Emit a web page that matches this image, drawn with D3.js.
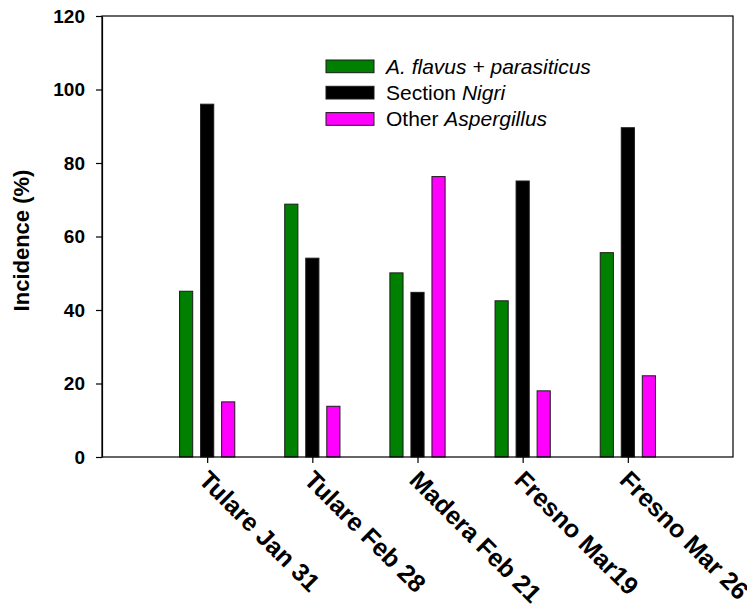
<!DOCTYPE html>
<html lang="en">
<head>
    <meta charset="UTF-8">
    <title>Aspergillus incidence by site</title>
    <script src="https://d3js.org/d3.v7.min.js"></script>
    <style>
        body { margin: 0; background: #fff; }
        svg text { font-family: Arial, "Liberation Sans", sans-serif; fill: #000; }
        .axis path, .axis line { stroke: #000; stroke-width: 1.2px; }
        .y-axis text { font-size: 19px; font-weight: bold; }
        .x-label { font-size: 25px; font-weight: bold; }
        .legend text { font-size: 21px; }
    </style>
</head>
<body>
    <div id="chart"></div>

    <script>
        // data
        const sites = ["Tulare Jan 31", "Tulare Feb 28", "Madera Feb 21", "Fresno Mar19", "Fresno Mar 26"];
        const flavus = [45.1, 68.8, 50.1, 42.5, 55.6];
        const nigri = [96.0, 54.1, 44.8, 75.1, 89.6];
        const otherAsp = [15.0, 13.8, 76.3, 18.0, 22.1];
        const yTicks = [0, 20, 40, 60, 80, 100, 120];

        const series = [
            { values: flavus, color: "#008000", offset: -0.2, label: [["A. flavus + parasiticus", true]] },
            { values: nigri, color: "#000000", offset: 0, label: [["Section ", false], ["Nigri", true]] },
            { values: otherAsp, color: "#ff00ff", offset: 0.2, label: [["Other ", false], ["Aspergillus", true]] }
        ];

        const W = 747, H = 604;
        const plot = { left: 102, right: 733, top: 16, bottom: 457 };
        const barW = 0.125;

        const svg = d3.select("#chart").append("svg")
            .attr("width", W)
            .attr("height", H);

        // categories sit at 0..4, axis runs one step beyond each end
        const x = d3.scaleLinear()
            .domain([-1, sites.length])
            .range([plot.left, plot.right]);

        const y = d3.scaleLinear()
            .domain([0, 120])
            .range([plot.bottom, plot.top]);

        // bars
        series.forEach(s => {
            svg.append("g").selectAll("rect")
                .data(s.values)
                .enter()
                .append("rect")
                .attr("x", (d, i) => x(i + s.offset - barW / 2))
                .attr("y", d => y(d))
                .attr("width", x(barW) - x(0))
                .attr("height", d => y(0) - y(d))
                .attr("fill", s.color)
                .attr("stroke", "#1a1a1a")
                .attr("stroke-width", 1);
        });

        // frame
        svg.append("rect")
            .attr("x", plot.left)
            .attr("y", plot.top)
            .attr("width", plot.right - plot.left)
            .attr("height", plot.bottom - plot.top)
            .attr("fill", "none")
            .attr("stroke", "#000")
            .attr("stroke-width", 1.2);

        // y axis
        svg.append("g")
            .attr("class", "axis y-axis")
            .attr("transform", `translate(${plot.left},0)`)
            .call(d3.axisLeft(y).tickValues(yTicks).tickSize(6).tickSizeOuter(0).tickPadding(11));

        // x axis, labels drawn separately at 45 degrees
        const xAxis = svg.append("g")
            .attr("class", "axis x-axis")
            .attr("transform", `translate(0,${plot.bottom})`)
            .call(d3.axisBottom(x).tickValues(d3.range(sites.length)).tickSize(6).tickSizeOuter(0).tickFormat(""));
        xAxis.select(".domain").remove();

        svg.append("g").selectAll("text")
            .data(sites)
            .enter()
            .append("text")
            .attr("class", "x-label")
            .attr("transform", (d, i) => `translate(${x(i) + 3},${plot.bottom + 12}) rotate(45)`)
            .attr("dy", "0.71em")
            .text(d => d);

        // y title
        svg.append("text")
            .attr("transform", `translate(29,${(plot.top + plot.bottom) / 2 + 4}) rotate(-90)`)
            .attr("text-anchor", "middle")
            .style("font-size", "22px")
            .style("font-weight", "bold")
            .text("Incidence (%)");

        // legend
        const legend = svg.append("g").attr("class", "legend")
            .attr("transform", "translate(326,60)");
        series.forEach((s, k) => {
            const row = legend.append("g").attr("transform", `translate(0,${k * 26.3})`);
            row.append("rect")
                .attr("width", 48)
                .attr("height", 12.7)
                .attr("fill", s.color)
                .attr("stroke", "#1a1a1a")
                .attr("stroke-width", 1);
            const t = row.append("text").attr("x", 60).attr("y", 13.5);
            s.label.forEach(([txt, it]) => {
                t.append("tspan")
                    .style("font-style", it ? "italic" : "normal")
                    .text(txt);
            });
        });
    </script>
</body>
</html>
